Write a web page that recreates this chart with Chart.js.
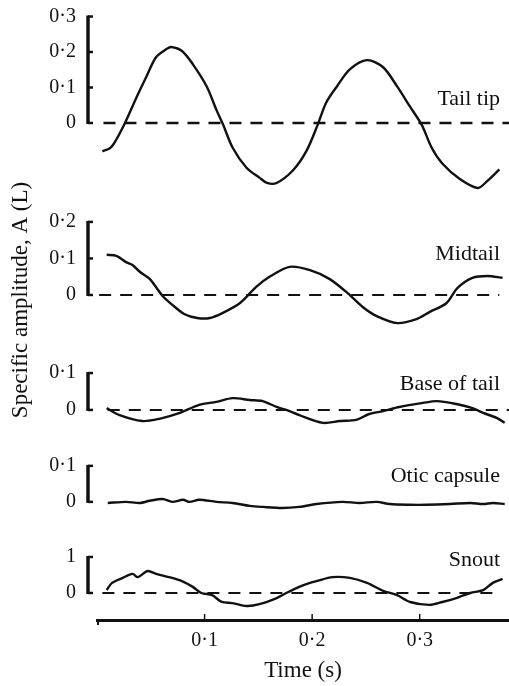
<!DOCTYPE html>
<html>
<head>
<meta charset="utf-8">
<script src="https://cdn.jsdelivr.net/npm/chart.js@4.4.1/dist/chart.umd.min.js"></script>
<style>
  html, body { margin: 0; padding: 0; background: #fff; }
  #wrap { width: 509px; height: 686px; position: relative; }
</style>
</head>
<body>
<div id="wrap"><canvas id="chart"></canvas></div>
<script>
/* ================= DATA ================= */
// time (s) and specific amplitude A (L)
const tailTipTime = [0.005, 0.012, 0.016, 0.026, 0.037, 0.046, 0.055, 0.065, 0.069, 0.079,
                     0.089, 0.102, 0.111, 0.117, 0.126, 0.139, 0.151, 0.158, 0.167, 0.182,
                     0.195, 0.205, 0.213, 0.223, 0.235, 0.251, 0.266, 0.279, 0.291, 0.302,
                     0.311, 0.321, 0.337, 0.354, 0.363, 0.374];
const tailTipAmp = [-0.080, -0.071, -0.057, 0.000, 0.074, 0.131, 0.186, 0.209, 0.214, 0.203,
                    0.166, 0.103, 0.037, -0.003, -0.069, -0.126, -0.154, -0.169, -0.169, -0.134,
                    -0.077, -0.006, 0.057, 0.103, 0.151, 0.177, 0.157, 0.103, 0.046, -0.006,
                    -0.069, -0.114, -0.157, -0.183, -0.163, -0.131];

const midtailTime = [0.009, 0.018, 0.027, 0.033, 0.040, 0.049, 0.061, 0.070, 0.081, 0.093,
                     0.105, 0.117, 0.133, 0.148, 0.160, 0.179, 0.198, 0.216, 0.233, 0.247,
                     0.260, 0.279, 0.297, 0.309, 0.325, 0.335, 0.349, 0.363, 0.377];
const midtailAmp = [0.110, 0.107, 0.090, 0.082, 0.063, 0.044, -0.003, -0.027, -0.052, -0.063,
                    -0.063, -0.049, -0.022, 0.022, 0.049, 0.077, 0.068, 0.044, 0.005, -0.033,
                    -0.058, -0.077, -0.066, -0.047, -0.022, 0.019, 0.047, 0.052, 0.047];

const baseTime = [0.009, 0.021, 0.042, 0.058, 0.077, 0.095, 0.111, 0.126, 0.142, 0.154,
                  0.167, 0.176, 0.188, 0.210, 0.226, 0.241, 0.253, 0.266, 0.281, 0.303,
                  0.316, 0.334, 0.349, 0.359, 0.372, 0.379];
const baseAmp = [0.005, -0.014, -0.030, -0.024, -0.008, 0.014, 0.022, 0.032, 0.027, 0.024,
                 0.008, 0.000, -0.014, -0.035, -0.030, -0.027, -0.011, -0.003, 0.008, 0.019,
                 0.024, 0.016, 0.005, -0.008, -0.022, -0.035];

const oticTime = [0.010, 0.027, 0.040, 0.049, 0.061, 0.070, 0.080, 0.086, 0.095, 0.111,
                  0.126, 0.142, 0.154, 0.172, 0.188, 0.204, 0.228, 0.244, 0.260, 0.272,
                  0.291, 0.306, 0.328, 0.347, 0.359, 0.368, 0.379];
const oticAmp = [-0.003, 0.000, -0.003, 0.003, 0.008, 0.000, 0.006, 0.000, 0.006, 0.000,
                 -0.003, -0.011, -0.014, -0.017, -0.014, -0.006, 0.000, -0.003, 0.000, -0.006,
                 -0.008, -0.008, -0.006, -0.003, -0.006, -0.003, -0.006];

const snoutTime = [0.009, 0.014, 0.024, 0.033, 0.038, 0.047, 0.055, 0.067, 0.079, 0.089,
                   0.097, 0.107, 0.116, 0.126, 0.139, 0.151, 0.167, 0.176, 0.188, 0.198,
                   0.204, 0.219, 0.235, 0.251, 0.266, 0.279, 0.291, 0.309, 0.321, 0.334,
                   0.347, 0.359, 0.368, 0.377];
const snoutAmp = [0.08, 0.28, 0.42, 0.53, 0.44, 0.61, 0.53, 0.44, 0.33, 0.17,
                  0.00, -0.06, -0.25, -0.28, -0.36, -0.31, -0.14, 0.00, 0.17, 0.28,
                  0.33, 0.44, 0.42, 0.28, 0.06, -0.06, -0.25, -0.33, -0.25, -0.14,
                  0.00, 0.08, 0.28, 0.39];

// dashed zero reference lines (start / end time)
const tailTipZero = [0.006, 0.383];
const midtailZero = [0.002, 0.374];
const baseZero = [0.010, 0.383];
const snoutZero = [0.005, 0.372];

// tick labels
const tailTipTicks = [0, 0.1, 0.2, 0.3];
const midtailTicks = [0, 0.1, 0.2];
const baseTicks = [0, 0.1];
const oticTicks = [0, 0.1];
const snoutTicks = [0, 1];
const timeTicks = [0.1, 0.2, 0.3];

const INK = "#111";
const SERIF = "'Liberation Serif', 'Times New Roman', serif";

/* ================= PANELS ================= */
// listed bottom to top: Chart.js stacks left axes with the last one on top
const panels = [
    { id: "ySnout", name: "Snout", time: snoutTime, amp: snoutAmp, zero: snoutZero, ticks: snoutTicks,
      min: -0.75, max: 1.61, weight: 85, lift: 27 },
    { id: "yOtic", name: "Otic capsule", time: oticTime, amp: oticAmp, zero: null, ticks: oticTicks,
      min: -0.092, max: 0.158, weight: 90, lift: 20 },
    { id: "yBase", name: "Base of tail", time: baseTime, amp: baseAmp, zero: baseZero, ticks: baseTicks,
      min: -0.095, max: 0.176, weight: 100, lift: 20 },
    { id: "yMid", name: "Midtail", time: midtailTime, amp: midtailAmp, zero: midtailZero, ticks: midtailTicks,
      min: -0.137, max: 0.260, weight: 145, lift: 35 },
    { id: "yTip", name: "Tail tip", time: tailTipTime, amp: tailTipAmp, zero: tailTipZero, ticks: tailTipTicks,
      min: -0.217, max: 0.324, weight: 192, lift: 18 }
];

const fmt = v => (v === 0 ? "0" : String(Math.round(v * 10) / 10).replace(".", "\u00B7"));

const datasets = [];
const scales = {
    x: {
        type: "linear",
        min: 0,
        max: 0.383,
        grid: { display: false, drawTicks: false },
        border: { display: true, color: INK, width: 3 },
        ticks: { color: INK, font: { size: 20, family: SERIF }, padding: 9, callback: fmt },
        afterBuildTicks: s => { s.ticks = timeTicks.map(v => ({ value: v })); },
        afterFit: s => { s.height = 66; s.paddingLeft = 0; s.paddingRight = 0; },
        title: { display: true, text: "Time (s)", color: INK, font: { size: 23, family: SERIF },
                 padding: { top: 0, bottom: 1 } }
    }
};

panels.forEach(p => {
    datasets.push({
        data: p.time.map((t, i) => ({ x: t, y: p.amp[i] })),
        yAxisID: p.id,
        borderColor: INK,
        borderWidth: 2.4,
        pointRadius: 0,
        tension: 0.3,
        fill: false
    });
    if (p.zero) {
        datasets.push({
            data: p.zero.map(t => ({ x: t, y: 0 })),
            yAxisID: p.id,
            borderColor: INK,
            borderWidth: p.id === "yTip" ? 2.6 : 2,
            borderDash: [12, 9],
            pointRadius: 0,
            fill: false
        });
    }
    scales[p.id] = {
        type: "linear",
        position: "left",
        stack: "panels",
        stackWeight: p.weight,
        min: p.min,
        max: p.max,
        grid: { display: false, drawTicks: false },
        border: { display: false },
        ticks: { color: INK, font: { size: 20, family: SERIF }, padding: 21, callback: fmt },
        afterBuildTicks: s => { s.ticks = p.ticks.map(v => ({ value: v })); },
        afterFit: s => { s.width = 50; s.paddingTop = 0; s.paddingBottom = 0; }
    };
});

/* ================= BRACKETS, LABELS ================= */
const decorPlugin = {
    id: "decor",
    afterDraw(chart) {
        const ctx = chart.ctx;
        const area = chart.chartArea;
        ctx.save();
        ctx.strokeStyle = INK;
        ctx.fillStyle = INK;

        panels.forEach(p => {
            const s = chart.scales[p.id];
            const bx = area.left - 9;
            const top = s.getPixelForValue(p.ticks[p.ticks.length - 1]);
            const bot = s.getPixelForValue(0);
            ctx.lineWidth = 3.5;
            ctx.beginPath();
            ctx.moveTo(bx, top - 1);
            ctx.lineTo(bx, bot + 1);
            ctx.stroke();
            ctx.lineWidth = 2.5;
            p.ticks.forEach(v => {
                const y = s.getPixelForValue(v);
                ctx.beginPath();
                ctx.moveTo(bx, y);
                ctx.lineTo(bx + 5, y);
                ctx.stroke();
            });

            ctx.font = "22px " + SERIF;
            ctx.textAlign = "right";
            ctx.textBaseline = "alphabetic";
            ctx.fillText(p.name, area.right - 9, bot - p.lift);
        });

        // small upward ticks on the time axis
        const xs = chart.scales.x;
        ctx.lineWidth = 1.5;
        timeTicks.forEach(v => {
            const x = xs.getPixelForValue(v);
            ctx.beginPath();
            ctx.moveTo(x, area.bottom);
            ctx.lineTo(x, area.bottom - 6);
            ctx.stroke();
        });
        ctx.lineWidth = 2;
        ctx.beginPath();
        ctx.moveTo(area.left + 1, area.bottom);
        ctx.lineTo(area.left + 1, area.bottom + 5);
        ctx.stroke();

        // shared y title
        ctx.translate(21, 300);
        ctx.rotate(-Math.PI / 2);
        ctx.font = "23px " + SERIF;
        ctx.textAlign = "center";
        ctx.textBaseline = "middle";
        ctx.fillText("Specific amplitude, A (L)", 0, 0);
        ctx.restore();
    }
};

new Chart(document.getElementById("chart"), {
    type: "line",
    data: { datasets },
    options: {
        responsive: true,
        maintainAspectRatio: false,
        animation: false,
        devicePixelRatio: 1,
        layout: { padding: { left: 47, top: 8, right: 0, bottom: 0 } },
        plugins: { legend: { display: false }, tooltip: { enabled: false } },
        scales
    },
    plugins: [decorPlugin]
});
</script>
</body>
</html>
